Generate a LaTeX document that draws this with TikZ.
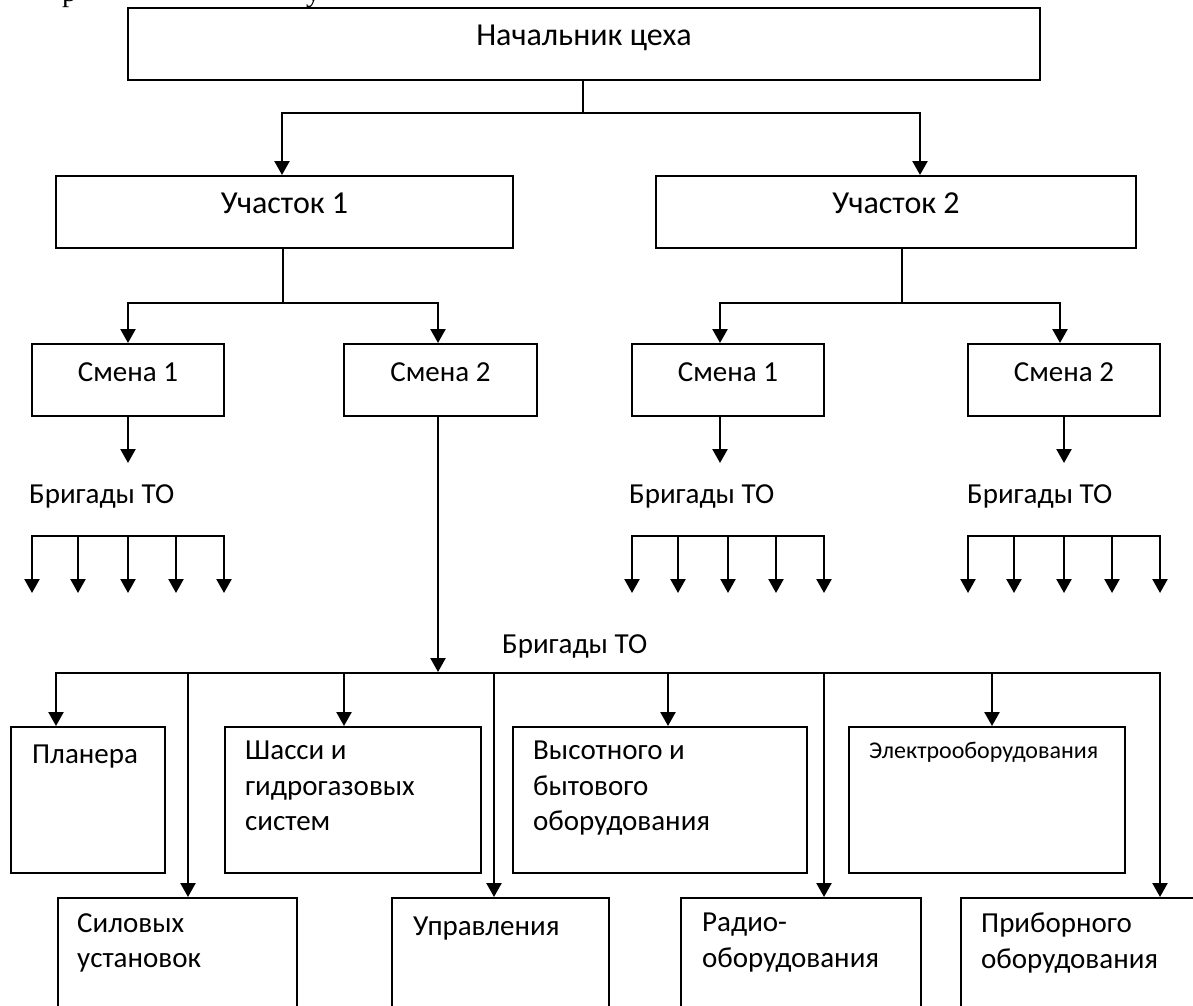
\documentclass[tikz,border=0pt]{standalone}
\usepackage{fontspec}
\setmainfont{Carlito}
\newfontfamily\serifcut{Liberation Serif}
\usetikzlibrary{arrows.meta,calc}
\begin{document}
\begin{tikzpicture}[x=1pt,y=-1pt,
  box/.style={draw, line width=2pt, inner sep=0pt, font=\fontsize{29}{35.4}\selectfont, text height=0.65em, text depth=0.4em},
  bigbox/.style={box, font=\fontsize{32}{39}\selectfont},
  frame/.style={draw, line width=2pt, inner sep=0pt, anchor=north west},
  conn/.style={line width=2.4pt, line cap=rect},
  arr/.style={line width=2.4pt, -{Triangle[width=15pt,length=14pt]}},
  lbl/.style={font=\fontsize{29}{35.4}\selectfont, inner sep=0pt, align=left, anchor=north west, execute at begin node={\rule{0pt}{22pt}}},
  small/.style={font=\fontsize{24}{29}\selectfont, inner sep=0pt, anchor=base west},
  brig/.style={font=\fontsize{29}{35.4}\selectfont, inner sep=0pt, anchor=base west},
]
\useasboundingbox (0,0) rectangle (1193,1005);
\clip (0,0) rectangle (1193,1005);

% fragments of the text line above (cut off in the reference)
\node[font=\serifcut\fontsize{29}{29}\selectfont, inner sep=0pt, anchor=base west] (frag1) at (62,1) {р};
\node[font=\serifcut\fontsize{29}{29}\selectfont, inner sep=0pt, anchor=base west] (frag2) at (306,1) {у};

% upper boxes
\node[bigbox, minimum width=912pt, minimum height=72pt] (top) at (584,44) {Начальник цеха};
\node[bigbox, minimum width=457pt, minimum height=72pt] (u1) at (284.5,212) {Участок 1};
\node[bigbox, minimum width=480pt, minimum height=72pt] (u2) at (896,212) {Участок 2};
\node[box, minimum width=192pt, minimum height=72pt] (s11) at (128,380) {Смена 1};
\node[box, minimum width=193pt, minimum height=72pt] (s12) at (440.5,380) {Смена 2};
\node[box, minimum width=192pt, minimum height=72pt] (s21) at (728,380) {Смена 1};
\node[box, minimum width=192pt, minimum height=72pt] (s22) at (1064,380) {Смена 2};

% connectors top -> sections
\coordinate (j0) at (583,113);
\draw[conn] (top.south -| j0) -- (j0);
\draw[arr] (j0) -| ([xshift=-2.5pt]u1.north);
\draw[arr] (j0) -| ([xshift=24pt]u2.north);

\coordinate (j1) at (283,303);
\draw[conn] (u1.south -| j1) -- (j1);
\draw[arr] (j1) -| (s11.north);
\draw[arr] (j1) -| ([xshift=-2.5pt]s12.north);

\coordinate (j2) at (902,303);
\draw[conn] (u2.south -| j2) -- (j2);
\draw[arr] (j2) -| ([xshift=-8pt]s21.north);
\draw[arr] (j2) -| ([xshift=-4pt]s22.north);

% shift -> brigades
\coordinate (e11) at (128,463);
\coordinate (e21) at (720,463);
\coordinate (e22) at (1064,463);
\draw[arr] (s11.south) -- (e11);
\draw[arr] ([xshift=-8pt]s21.south) -- (e21);
\draw[arr] (s22.south) -- (e22);

\node[brig] (bL) at (29,503) {Бригады ТО};
\node[brig] (bM) at (629,503) {Бригады ТО};
\node[brig] (bR) at (967,503) {Бригады ТО};

% brigade fans
\foreach \g/\xa/\xb/\xc/\xd/\xe in {L/32/78/128/176/224, M/632/678/728/776/824, R/968/1014/1064/1112/1160}{
  \coordinate (\g a1) at (\xa,536); \coordinate (\g b1) at (\xa,593);
  \coordinate (\g a2) at (\xb,536); \coordinate (\g b2) at (\xb,593);
  \coordinate (\g a3) at (\xc,536); \coordinate (\g b3) at (\xc,593);
  \coordinate (\g a4) at (\xd,536); \coordinate (\g b4) at (\xd,593);
  \coordinate (\g a5) at (\xe,536); \coordinate (\g b5) at (\xe,593);
  \draw[conn] (\g a1) -- (\g a5);
  \foreach \i in {1,...,5}{ \draw[arr] (\g a\i) -- (\g b\i); }
}

% lower boxes
\node[frame, minimum width=154pt, minimum height=146pt] (pl) at (10,726) {};
\node[frame, minimum width=256pt, minimum height=146pt] (sh) at (224,726) {};
\node[frame, minimum width=294pt, minimum height=146pt] (vy) at (512,726) {};
\node[frame, minimum width=276pt, minimum height=146pt] (el) at (848,726) {};
\node[frame, minimum width=239pt, minimum height=160pt] (si) at (57,897) {};
\node[frame, minimum width=217pt, minimum height=160pt] (up) at (391,897) {};
\node[frame, minimum width=240pt, minimum height=160pt] (ra) at (680,897) {};
\node[frame, minimum width=300pt, minimum height=160pt] (pr) at (960,897) {};

\node[lbl] (tpl) at (32,741) {Планера};
\node[lbl] (tsh) at (245,741) {Шасси и\\гидрогазовых\\систем};
\node[lbl] (tvy) at (533,741) {Высотного и\\бытового\\оборудования};
\node[small] (tel) at (869,758) {Электрооборудования};
\node[lbl] (tsi) at (77,913) {Силовых\\установок};
\node[lbl] (tup) at (413,913) {Управления};
\node[lbl] (tra) at (702,913) {Радио-\\оборудования};
\node[lbl] (tpr) at (981,913) {Приборного\\оборудования};

% shift 2 -> bus
\node[brig] (bB) at (502,653) {Бригады ТО};
\coordinate (jb) at (438,672);
\draw[arr] ([xshift=-2.5pt]s12.south) -- (jb);
\coordinate (bus0) at (56,673);
\coordinate (bus1) at (1160,673);
\draw[conn] (bus0) -- (bus1);
\coordinate (d1) at (56,673);
\coordinate (d2) at (188,673);
\coordinate (d3) at (344,673);
\coordinate (d4) at (494,673);
\coordinate (d5) at (668,673);
\coordinate (d6) at (824,673);
\coordinate (d7) at (992,673);
\coordinate (d8) at (1160,673);
\draw[arr] (d1) -- (d1 |- pl.north);
\draw[arr] (d2) -- (d2 |- si.north);
\draw[arr] (d3) -- (d3 |- sh.north);
\draw[arr] (d4) -- (d4 |- up.north);
\draw[arr] (d5) -- (d5 |- vy.north);
\draw[arr] (d6) -- (d6 |- ra.north);
\draw[arr] (d7) -- (d7 |- el.north);
\draw[arr] (d8) -- (d8 |- pr.north);
\end{tikzpicture}
\end{document}
